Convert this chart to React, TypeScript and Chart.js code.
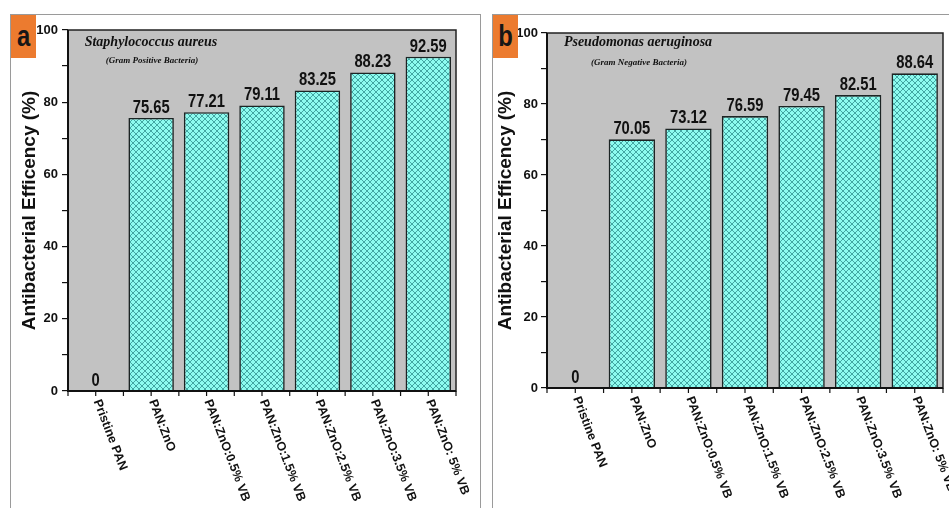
import React, { useEffect, useRef } from "react";
import { Chart, registerables } from "chart.js";

Chart.register(...registerables);

// ---- data ----
const categories = [
  "Pristine PAN",
  "PAN:ZnO",
  "PAN:ZnO:0.5% VB",
  "PAN:ZnO:1.5% VB",
  "PAN:ZnO:2.5% VB",
  "PAN:ZnO:3.5% VB",
  "PAN:ZnO: 5% VB",
];
const staphValues = [0, 75.65, 77.21, 79.11, 83.25, 88.23, 92.59];
const pseudoValues = [0, 70.05, 73.12, 76.59, 79.45, 82.51, 88.64];
const yTickLabels = [0, 20, 40, 60, 80, 100];
const yAxisTitle = "Antibacterial Efficency (%)";

const SANS = '"Liberation Sans", Arial, sans-serif';
const SERIF = '"Liberation Serif", "Times New Roman", serif';

function makePattern(): CanvasPattern | string {
  const c = document.createElement("canvas");
  const s = 6;
  c.width = s;
  c.height = s;
  const g = c.getContext("2d");
  if (!g) return "#70e8dc";
  g.fillStyle = "#8dfbef";
  g.fillRect(0, 0, s, s);
  g.strokeStyle = "#3a9c99";
  g.lineWidth = 0.9;
  for (const off of [-s, 0, s]) {
    g.beginPath();
    g.moveTo(off, 0);
    g.lineTo(off + s, s);
    g.stroke();
    g.beginPath();
    g.moveTo(off + s, 0);
    g.lineTo(off, s);
    g.stroke();
  }
  return g.createPattern(c, "repeat") || "#70e8dc";
}

type PanelCfg = {
  values: number[];
  title: string;
  subtitle: string;
  left: number;
  top: number;
  width: number;
  height: number;
  padTop: number;
  padRight: number;
  yWidth: number;
  xHeight: number;
  yTitlePad: number;
  yTickPad: number;
  titleX: number;
  titleY: number;
  subX: number;
  subY: number;
};

const panels: PanelCfg[] = [
  {
    values: staphValues,
    title: "Staphylococcus aureus",
    subtitle: "(Gram Positive Bacteria)",
    left: 10,
    top: 14,
    width: 470,
    height: 494,
    padTop: 16,
    padRight: 24,
    yWidth: 58,
    xHeight: 117,
    yTitlePad: 8,
    yTickPad: 4,
    titleX: 141,
    titleY: 32,
    subX: 142,
    subY: 49,
  },
  {
    values: pseudoValues,
    title: "Pseudomonas aeruginosa",
    subtitle: "(Gram Negative Bacteria)",
    left: 492,
    top: 14,
    width: 457,
    height: 494,
    padTop: 19,
    padRight: 6,
    yWidth: 55,
    xHeight: 120,
    yTitlePad: 2,
    yTickPad: 3,
    titleX: 146,
    titleY: 32,
    subX: 147,
    subY: 51,
  },
];

function Panel({ cfg }: { cfg: PanelCfg }) {
  const ref = useRef<HTMLCanvasElement | null>(null);
  useEffect(() => {
    if (!ref.current) return;
    const pattern = makePattern();
    const deco = {
      id: "deco",
      beforeDatasetsDraw(chart: any) {
        const { ctx, chartArea: a } = chart;
        ctx.save();
        ctx.fillStyle = "#c2c2c2";
        ctx.fillRect(a.left, a.top, a.right - a.left, a.bottom - a.top);
        ctx.restore();
      },
      afterDatasetsDraw(chart: any) {
        const { ctx, chartArea: a } = chart;
        const xs = chart.scales.x;
        ctx.save();
        // frame of plot
        ctx.strokeStyle = "#222";
        ctx.lineWidth = 1.5;
        ctx.strokeRect(a.left, a.top, a.right - a.left, a.bottom - a.top);
        ctx.lineWidth = 2;
        ctx.strokeStyle = "#111";
        ctx.beginPath();
        ctx.moveTo(a.left, a.top);
        ctx.lineTo(a.left, a.bottom);
        ctx.lineTo(a.right, a.bottom);
        ctx.stroke();
        // x ticks (centres and boundaries)
        const n = categories.length;
        const w = (a.right - a.left) / n;
        ctx.lineWidth = 1.2;
        ctx.beginPath();
        for (let i = 0; i < n; i++) {
          const x = xs.getPixelForValue(i);
          ctx.moveTo(x, a.bottom);
          ctx.lineTo(x, a.bottom + 5);
          ctx.moveTo(x - w / 2, a.bottom);
          ctx.lineTo(x - w / 2, a.bottom + 5);
        }
        ctx.moveTo(a.right, a.bottom);
        ctx.lineTo(a.right, a.bottom + 5);
        ctx.stroke();
        // x labels rotated clockwise
        ctx.fillStyle = "#111";
        ctx.font = `bold 12.5px ${SANS}`;
        ctx.textAlign = "left";
        ctx.textBaseline = "middle";
        for (let i = 0; i < n; i++) {
          const x = xs.getPixelForValue(i);
          ctx.save();
          ctx.translate(x + 1, a.bottom + 9);
          ctx.rotate((69 * Math.PI) / 180);
          ctx.fillText(categories[i], 0, 0);
          ctx.restore();
        }
        // value labels (condensed bold)
        const meta = chart.getDatasetMeta(0);
        ctx.font = `bold 18px ${SANS}`;
        ctx.textAlign = "center";
        ctx.textBaseline = "bottom";
        meta.data.forEach((bar: any, i: number) => {
          const v = cfg.values[i];
          const txt = v === 0 ? "0" : v.toFixed(2);
          ctx.save();
          ctx.translate(bar.x, bar.y - 1);
          ctx.scale(0.82, 1);
          ctx.fillText(txt, 0, 0);
          ctx.restore();
        });
        // titles
        ctx.font = `italic bold 14px ${SERIF}`;
        ctx.textBaseline = "alphabetic";
        ctx.fillText(cfg.title, cfg.titleX, cfg.titleY);
        ctx.font = `italic bold 9px ${SERIF}`;
        ctx.fillText(cfg.subtitle, cfg.subX, cfg.subY);
        ctx.restore();
      },
    };
    const chart = new Chart(ref.current, {
      type: "bar",
      data: {
        labels: categories,
        datasets: [
          {
            data: cfg.values,
            backgroundColor: pattern as any,
            borderColor: "#1c2424",
            borderWidth: 1.6,
            barPercentage: 0.82,
            categoryPercentage: 1,
          },
        ],
      },
      options: {
        responsive: false,
        animation: false,
        events: [],
        layout: { padding: { top: cfg.padTop, right: cfg.padRight, left: 0, bottom: 0 } },
        plugins: { legend: { display: false }, tooltip: { enabled: false } },
        scales: {
          x: {
            grid: { display: false },
            border: { display: false },
            ticks: { display: false },
            afterFit: (s: any) => {
              s.height = cfg.xHeight;
            },
          },
          y: {
            min: 0,
            max: 100,
            afterFit: (s: any) => {
              s.width = cfg.yWidth;
            },
            ticks: {
              stepSize: 10,
              color: "#111",
              padding: cfg.yTickPad,
              font: { family: SANS, size: 13, weight: "bold" },
              callback: (v: any) => (yTickLabels.includes(Number(v)) ? String(v) : ""),
            },
            grid: {
              drawOnChartArea: false,
              drawTicks: true,
              tickLength: 6,
              color: "#111",
              lineWidth: 1.2,
            },
            border: { display: false },
            title: {
              display: true,
              text: yAxisTitle,
              color: "#111",
              font: { family: SANS, size: 19, weight: "bold" },
              padding: { top: cfg.yTitlePad, bottom: 0 },
            },
          },
        },
      },
      plugins: [deco],
    });
    return () => chart.destroy();
  }, [cfg]);
  return (
    <canvas
      ref={ref}
      width={cfg.width}
      height={cfg.height}
      style={{ position: "absolute", left: cfg.left, top: cfg.top, width: cfg.width, height: cfg.height }}
    />
  );
}

export default function App() {
  const frame = (left: number, width: number): React.CSSProperties => ({
    position: "absolute",
    left,
    top: 14,
    width,
    height: 520,
    border: "1.5px solid #9a9a9a",
    boxSizing: "border-box",
  });
  const badge = (left: number): React.CSSProperties => ({
    position: "absolute",
    left,
    top: 15,
    width: 25,
    height: 43,
    background: "#ec7b2f",
  });
  const letter: React.CSSProperties = {
    position: "absolute",
    left: 0,
    top: 0,
    width: 25,
    height: 43,
    color: "#161616",
    fontFamily: SANS,
    fontWeight: "bold",
    fontSize: 29,
    lineHeight: "43px",
    textAlign: "center",
    transform: "scaleX(0.82)",
  };
  return (
    <div style={{ position: "absolute", left: 0, top: 0, width: 949, height: 508, overflow: "hidden", background: "#fff" }}>
      <div style={frame(10, 471)} />
      <div style={frame(492, 480)} />
      {panels.map((p, i) => (
        <Panel key={i} cfg={p} />
      ))}
      <div style={badge(11)}>
        <div style={letter}>a</div>
      </div>
      <div style={badge(493)}>
        <div style={letter}>b</div>
      </div>
    </div>
  );
}
